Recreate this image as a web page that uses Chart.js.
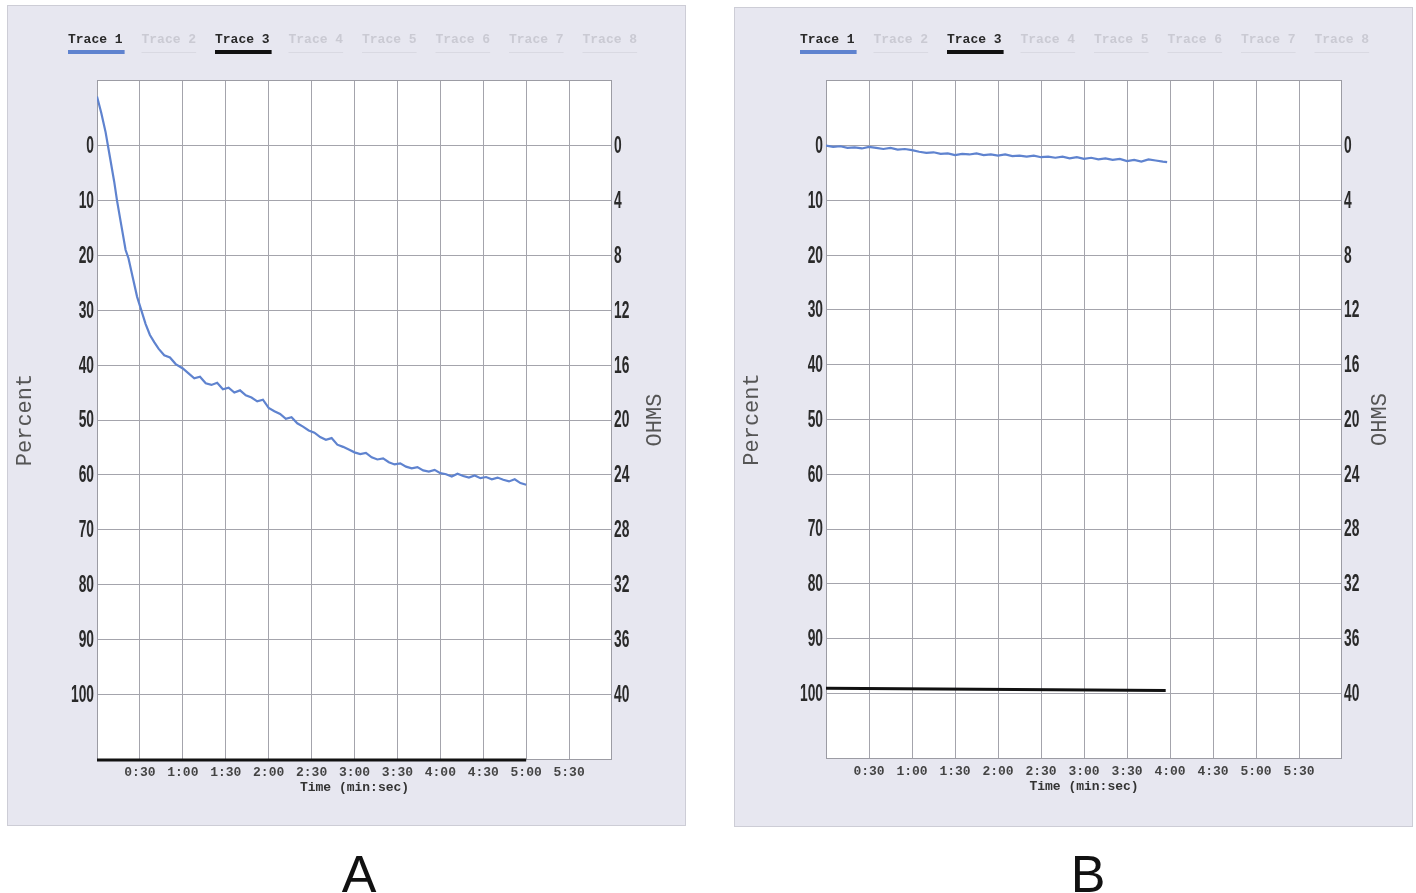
<!DOCTYPE html>
<html><head><meta charset="utf-8">
<script src="https://cdn.jsdelivr.net/npm/chart.js@4.4.1/dist/chart.umd.min.js"></script>
<style>
html,body{margin:0;padding:0;background:#fff;width:1416px;height:893px;overflow:hidden;}
.panel{position:absolute;background:#e7e7f0;box-shadow:inset 0 0 0 1px #cdcdd6;}
#pA{left:7px;top:5px;width:679px;height:821px;}
#pB{left:734px;top:7px;width:679px;height:820px;}
.panel canvas{position:absolute;left:0;top:0;}
.lbl{position:absolute;top:848px;width:100px;text-align:center;font:52px/1 'Liberation Sans',Arial,sans-serif;color:#111;}
</style></head>
<body>
<div class="panel" id="pA"><canvas id="cA" width="679" height="821"></canvas></div>
<div class="panel" id="pB"><canvas id="cB" width="679" height="820"></canvas></div>
<div class="lbl" style="left:309px">A</div>
<div class="lbl" style="left:1038px">B</div>
<script>
// ---- data ----
const legendLabels = ['Trace 1','Trace 2','Trace 3','Trace 4','Trace 5','Trace 6','Trace 7','Trace 8'];
const xTickSeconds = [30,60,90,120,150,180,210,240,270,300,330];
const xTickLabels  = ['0:30','1:00','1:30','2:00','2:30','3:00','3:30','4:00','4:30','5:00','5:30'];
const percentTicks = [0,10,20,30,40,50,60,70,80,90,100];
const ohmTicks     = [0,4,8,12,16,20,24,28,32,36,40];
const leftTitle = 'Percent';
const rightTitle = 'OHMS';

// Panel A, Trace 1 (percent)
const tA1 = [0,3,6,9,12,14,17,20,22,25,28,31,34,37,40,43,47,51,55,60,64,68,72,76,80,84,88,92,96,100,
  104,108,112,116,120,124,128,132,136,140,144,148,152,156,160,164,168,172,176,180,184,188,192,196,200,
  204,208,212,216,220,224,228,232,236,240,244,248,252,256,260,264,268,272,276,280,284,288,292,296,300];
const vA1 = [-9,-6,-2.5,2,6.5,10,14.5,19,20.5,24,27.5,30,32.5,34.5,35.8,37,38.2,38.6,39.8,40.6,41.5,42.4,42.1,43.3,43.6,43.2,44.4,44.1,45.0,44.6,
  45.5,45.9,46.6,46.3,47.8,48.4,48.9,49.8,49.5,50.6,51.2,51.9,52.3,53.1,53.6,53.3,54.5,54.9,55.4,55.9,56.2,56.0,56.8,57.2,57.0,
  57.7,58.1,57.9,58.5,58.8,58.6,59.2,59.4,59.1,59.7,59.9,60.3,59.8,60.2,60.5,60.1,60.6,60.4,60.8,60.5,60.9,61.2,60.8,61.5,61.8];
// Panel A, Trace 3 (off scale, pinned at bottom)
const tA3 = [0,300];
const vA3 = [112,112];

// Panel B, Trace 1
const tB1 = [0,5,10,15,20,25,30,35,40,45,50,55,60,65,70,75,80,85,90,95,100,105,110,115,120,125,130,135,140,145,150,155,160,165,170,175,180,185,190,195,200,205,210,215,220,225,230,235,238];
const vB1 = [0,0.2,0.1,0.4,0.3,0.5,0.2,0.4,0.6,0.4,0.7,0.6,0.8,1.1,1.3,1.2,1.5,1.4,1.7,1.5,1.6,1.4,1.7,1.6,1.8,1.6,1.9,1.8,2.0,1.8,2.1,2.0,2.2,2.0,2.3,2.1,2.4,2.2,2.5,2.3,2.6,2.4,2.8,2.6,2.9,2.5,2.7,2.9,3.0];
// Panel B, Trace 3
const tB3 = [0,237];
const vB3 = [99.1,99.5];

// ---- helpers ----
const pts = (t,v) => t.map((x,i)=>({x:x,y:v[i]}));
const BLUE = '#5f83cf';
const MONO = '"Liberation Mono", "DejaVu Sans Mono", monospace';

const panelPlugin = {
  id:'panelDeco',
  beforeDraw(chart){
    const {ctx, chartArea:a} = chart;
    ctx.save(); ctx.fillStyle='#ffffff';
    ctx.fillRect(a.left,a.top,a.right-a.left,a.bottom-a.top);
    ctx.restore();
  },
  beforeDatasetsDraw(chart){
    const {ctx, chartArea:a} = chart;
    ctx.save(); ctx.strokeStyle='#9c9ca4'; ctx.lineWidth=1;
    ctx.strokeRect(Math.round(a.left)+0.5,Math.round(a.top)+0.5,Math.round(a.right-a.left)-1,Math.round(a.bottom-a.top)-1);
    ctx.restore();
  },
  afterDraw(chart){
    const o = chart.options.plugins.panelDeco;
    const {ctx} = chart;
    // legend
    ctx.save();
    ctx.font = 'bold 13px ' + MONO;
    ctx.textBaseline='middle';
    chart.data.datasets.forEach((ds,i)=>{
      const x = o.legendX + i*o.legendStep;
      const active = ds.data.length>0;
      const w = ctx.measureText(ds.label).width;
      ctx.fillStyle = active ? '#2a2a2a' : '#cacad3';
      ctx.fillText(ds.label, x, o.legendY);
      if(active){
        ctx.fillStyle = ds.borderColor;
        ctx.fillRect(x, o.legendY+10, w+2, 4);
      } else {
        ctx.fillStyle = '#d9d9e2';
        ctx.fillRect(x, o.legendY+12, w, 1);
      }
    });
    ctx.restore();
    // condensed y tick labels
    const sx = 0.6;
    ['y','y2'].forEach(id=>{
      const s = chart.scales[id];
      ctx.save();
      ctx.font = 'bold 23px "Liberation Sans", Arial, sans-serif';
      ctx.fillStyle = '#2a2a2a';
      ctx.textBaseline = 'middle';
      ctx.textAlign = id==='y' ? 'right' : 'left';
      ctx.scale(sx,1);
      s.ticks.forEach(t=>{
        const py = s.getPixelForValue(t.value);
        const px = id==='y' ? s.right - 3 : s.left + 2;
        ctx.fillText(t.label, px/sx, py+1);
      });
      ctx.restore();
    });
    // right axis title (reads bottom-to-top)
    const s2 = chart.scales.y2;
    ctx.save();
    ctx.font = '22px ' + MONO;
    ctx.fillStyle = '#555';
    ctx.textAlign='center'; ctx.textBaseline='middle';
    ctx.translate(o.ohmX, (s2.top+s2.bottom)/2);
    ctx.rotate(-Math.PI/2);
    ctx.fillText(rightTitle, 0, 0);
    ctx.restore();
  }
};

function makeChart(id, tr1, tr3, L){
  const datasets = legendLabels.map((lab,i)=>({label:lab, data:[], borderColor:'#cccccc', pointRadius:0, borderWidth:2}));
  datasets[0].data = tr1; datasets[0].borderColor = BLUE; datasets[0].borderWidth = 2.2;
  datasets[2].data = tr3; datasets[2].borderColor = '#111111'; datasets[2].borderWidth = 3; datasets[2].clip = false;
  const hiddenTick = {padding:3, color:'rgba(0,0,0,0)', font:{size:20}};
  return new Chart(document.getElementById(id), {
    type:'line',
    data:{datasets},
    options:{
      responsive:false, animation:false,
      layout:{padding:{top:L.top,left:0,right:0,bottom:L.bottom}},
      plugins:{legend:{display:false}, tooltip:{enabled:false},
        panelDeco:{legendX:L.legendX, legendY:L.legendY, legendStep:73.5, ohmX:L.ohmX}},
      elements:{line:{tension:0}},
      scales:{
        x:{type:'linear', min:0, max:360,
          afterBuildTicks(s){ s.ticks = xTickSeconds.map(v=>({value:v})); },
          afterFit(s){ s.height = 45; },
          grid:{color:'#a4a4ac', drawTicks:false},
          border:{display:false},
          ticks:{autoSkip:false, maxRotation:0, padding:5, color:'#444',
            font:{family:MONO, size:13, weight:'bold'},
            callback:(v)=>{const k=xTickSeconds.indexOf(v); return k<0?'':xTickLabels[k];}},
          title:{display:true, text:'Time (min:sec)', color:'#333', padding:{top:0,bottom:9},
            font:{family:MONO, size:13, weight:'bold'}}
        },
        y:{type:'linear', position:'left', reverse:true, min:-12, max:112,
          afterBuildTicks(s){ s.ticks = percentTicks.map(v=>({value:v})); },
          afterFit(s){ s.width = L.yw; },
          grid:{color:'#a4a4ac', drawTicks:false},
          border:{display:false},
          ticks:hiddenTick,
          title:{display:true, text:leftTitle, color:'#555', padding:{top:5,bottom:0},
            font:{family:MONO, size:22}}
        },
        y2:{type:'linear', position:'right', reverse:true, min:-4.8, max:44.8,
          afterBuildTicks(s){ s.ticks = ohmTicks.map(v=>({value:v})); },
          afterFit(s){ s.width = L.y2w; },
          grid:{display:false, drawTicks:false},
          border:{display:false},
          ticks:hiddenTick,
          title:{display:false}
        }
      }
    },
    plugins:[panelPlugin]
  });
}

makeChart('cA', pts(tA1,vA1), pts(tA3,vA3), {top:75, bottom:21, yw:90, y2w:74, ohmX:648, legendX:61, legendY:35});
makeChart('cB', pts(tB1,vB1), pts(tB3,vB3), {top:73, bottom:23, yw:92, y2w:71, ohmX:646, legendX:66, legendY:33});
</script>
</body></html>
